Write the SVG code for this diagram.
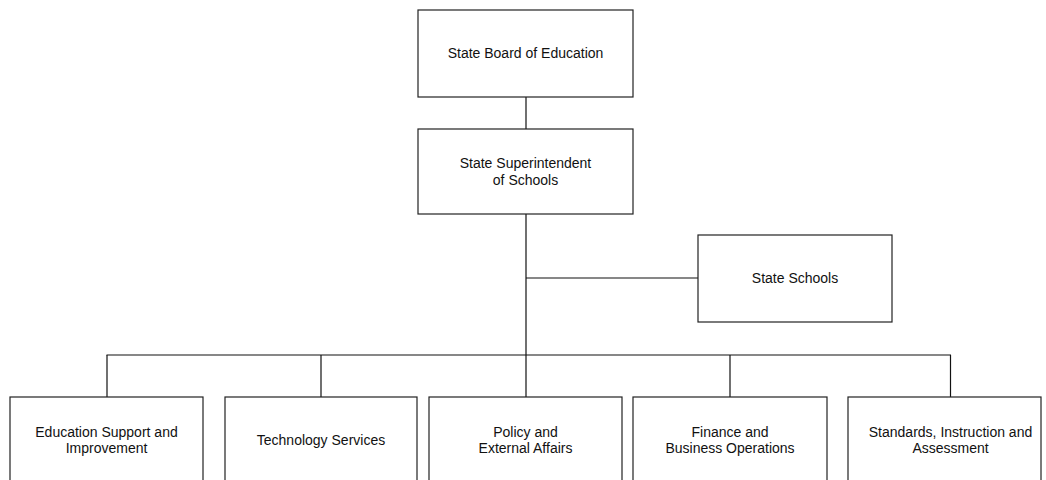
<svg xmlns="http://www.w3.org/2000/svg" width="1046" height="480" viewBox="0 0 1046 480">
<style>
.box{fill:#fff;stroke:#222;stroke-width:1.2}
.ln{stroke:#111;stroke-width:1.2;fill:none}
text{font-family:"Liberation Sans",Arial,sans-serif;font-size:14px;fill:#111;text-anchor:middle}
</style>
<rect width="1046" height="480" fill="#fff"/>
<g id="connectors">
<line class="ln" x1="526" y1="97" x2="526" y2="129"/>
<line class="ln" x1="526" y1="214" x2="526" y2="355"/>
<line class="ln" x1="526" y1="278" x2="698" y2="278"/>
<line class="ln" x1="106.5" y1="355" x2="951" y2="355"/>
<line class="ln" x1="107" y1="355" x2="107" y2="397"/>
<line class="ln" x1="321" y1="355" x2="321" y2="397"/>
<line class="ln" x1="526" y1="355" x2="526" y2="397"/>
<line class="ln" x1="730" y1="355" x2="730" y2="397"/>
<line class="ln" x1="950.5" y1="355" x2="950.5" y2="397"/>
</g>
<g id="board"><rect class="box" x="418" y="10" width="215" height="87"/><text x="525.5" y="58">State Board of Education</text></g>
<g id="superintendent"><rect class="box" x="418" y="129" width="215" height="85"/><text x="525.5" y="168">State Superintendent</text><text x="525.5" y="185">of Schools</text></g>
<g id="stateschools"><rect class="box" x="698" y="235" width="194" height="87"/><text x="795" y="283">State Schools</text></g>
<g id="esi"><rect class="box" x="10" y="397" width="193" height="90"/><text x="106.5" y="437">Education Support and</text><text x="106.5" y="453">Improvement</text></g>
<g id="tech"><rect class="box" x="225" y="397" width="192" height="90"/><text x="321" y="445">Technology Services</text></g>
<g id="policy"><rect class="box" x="429" y="397" width="193" height="90"/><text x="525.5" y="437">Policy and</text><text x="525.5" y="453">External Affairs</text></g>
<g id="finance"><rect class="box" x="633" y="397" width="194" height="90"/><text x="730" y="437">Finance and</text><text x="730" y="453">Business Operations</text></g>
<g id="standards"><rect class="box" x="848" y="397" width="193" height="90"/><text x="950.5" y="437">Standards, Instruction and</text><text x="950.5" y="453">Assessment</text></g>
</svg>
